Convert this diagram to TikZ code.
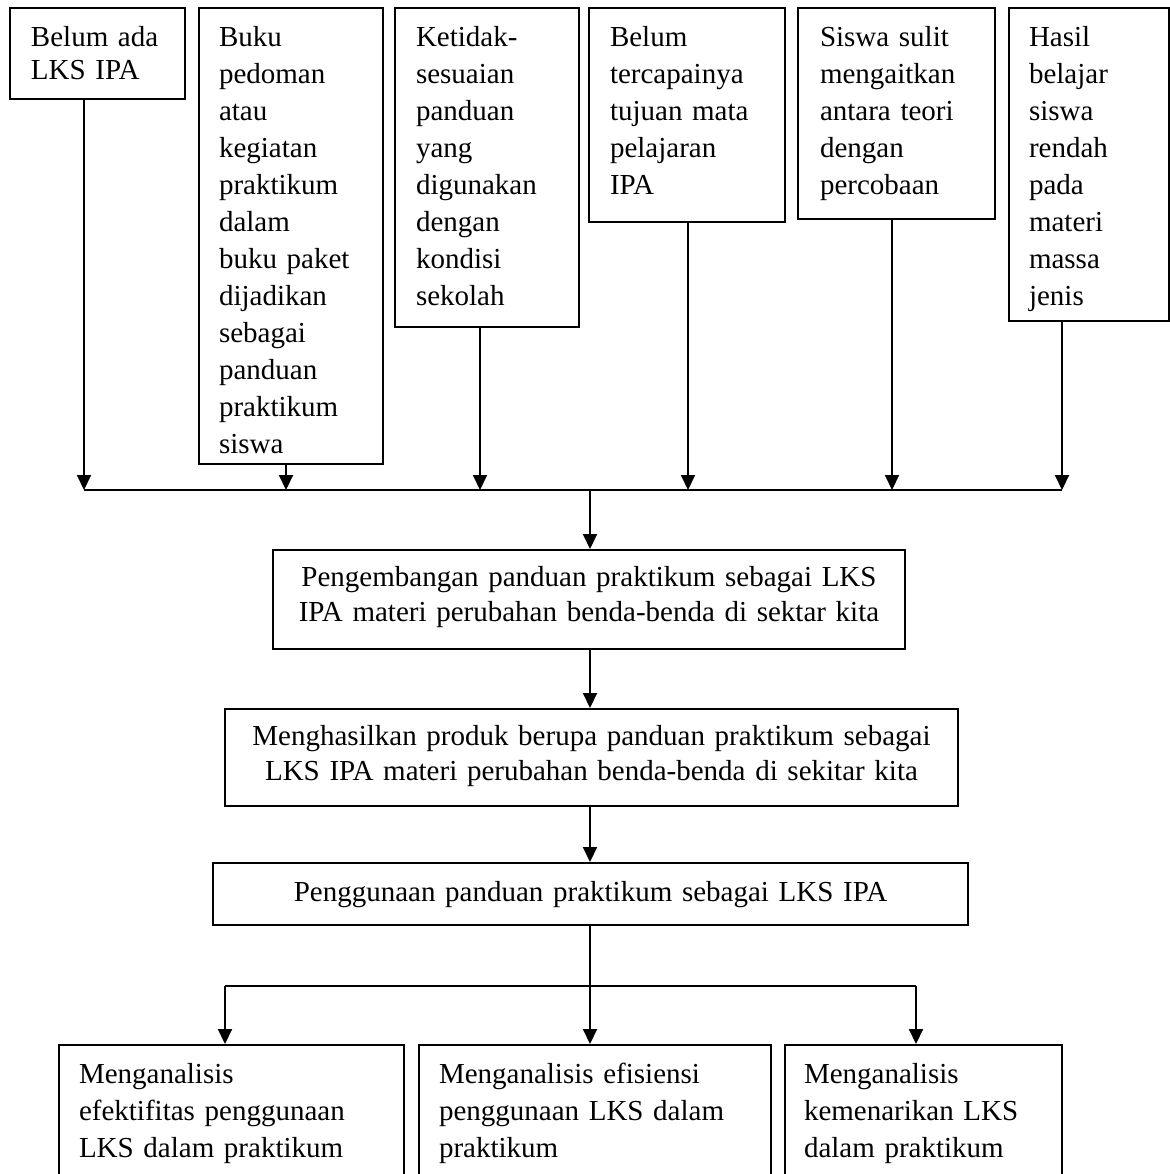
\documentclass[tikz,border=0pt]{standalone}
\usepackage{fontspec}
\setmainfont{Liberation Serif}
\usetikzlibrary{arrows.meta,positioning}
\newcommand{\boxfont}{\fontsize{14.5pt}{18.5pt}\selectfont}
\newcommand{\midfont}{\fontsize{14.5pt}{17.5pt}\selectfont}

\begin{document}
\begin{tikzpicture}
      [x = 0.5pt, y = -0.5pt,
      line width = 1pt,
      arr/.style = {-{Triangle[length = 7.5pt, width = 7pt]}},
      box/.style = {
         draw,
         anchor = north west,
         inner xsep = 10pt,
         inner ysep = 0pt,
         align = left,
         font = \boxfont
      },
      midbox/.style = {
         box,
         align = center,
         font = \midfont
      }]
      \useasboundingbox (0, 0) rectangle (1169, 1174);

      % masalah
      \node[box, font = \fontsize{14.5pt}{16.5pt}\selectfont, inner xsep = 10.5pt, text width = 66.5pt, text height = 19pt, text depth = 26.5pt]
         (lks) at (9, 7) {Belum ada\\LKS IPA};
      \node[box, text width = 72pt, text height = 19pt, text depth = 209pt]
         (buku) at (198, 7) {Buku\\pedoman\\atau\\kegiatan\\praktikum\\dalam\\buku paket\\dijadikan\\sebagai\\panduan\\praktikum\\siswa};
      \node[box, inner xsep = 10.5pt, text width = 71pt, text height = 19pt, text depth = 140.5pt]
         (sesuai) at (394, 7) {Ketidak-\\sesuaian\\panduan\\yang\\digunakan\\dengan\\kondisi\\sekolah};
      \node[box, inner xsep = 10.5pt, text width = 77pt, text height = 19pt, text depth = 88pt]
         (tujuan) at (588, 7) {Belum\\tercapainya\\tujuan mata\\pelajaran\\IPA};
      \node[box, inner xsep = 11pt, text width = 76.5pt, text height = 19pt, text depth = 86.5pt]
         (teori) at (797, 7) {Siswa sulit\\mengaitkan\\antara teori\\dengan\\percobaan};
      \node[box, text width = 60pt, text height = 19pt, text depth = 137.5pt]
         (hasil) at (1008, 7) {Hasil\\belajar\\siswa\\rendah\\pada\\materi\\massa\\jenis};

      \coordinate (j1) at (84, 490);
      \coordinate (j2) at (286, 490);
      \coordinate (j3) at (480, 490);
      \coordinate (j4) at (688, 490);
      \coordinate (j5) at (892, 490);
      \coordinate (j6) at (1062, 490);
      \coordinate (jc) at (590, 490);

      \draw[arr] (lks.south -| j1) -- (j1);
      \draw[arr] (buku.south -| j2) -- (j2);
      \draw[arr] (sesuai.south -| j3) -- (j3);
      \draw[arr] (tujuan.south -| j4) -- (j4);
      \draw[arr] (teori.south -| j5) -- (j5);
      \draw[arr] (hasil.south -| j6) -- (j6);
      \draw (j1) -- (j6);

      % alur pengembangan
      \node[midbox, text width = 296pt, text height = 18pt, text depth = 31.5pt]
         (kembang) at (272, 549) {Pengembangan panduan praktikum sebagai LKS\\IPA materi perubahan benda-benda di sektar kita};
      \node[midbox, text width = 346.5pt, text height = 18pt, text depth = 30.5pt]
         (produk) at (224, 708) {Menghasilkan produk berupa panduan praktikum sebagai\\LKS IPA materi perubahan benda-benda di sekitar kita};
      \node[midbox, text width = 357.5pt, text height = 19pt, text depth = 12pt]
         (guna) at (212, 862) {Penggunaan panduan praktikum sebagai LKS IPA};

      \draw[arr] (jc) -- (jc |- kembang.north);
      \draw[arr] (kembang.south -| jc) -- (produk.north -| jc);
      \draw[arr] (produk.south -| jc) -- (guna.north -| jc);

      % analisis
      \node[box, text width = 152.5pt, text height = 19pt, text depth = 80pt]
         (efek) at (58, 1044) {Menganalisis\\efektifitas penggunaan\\LKS dalam praktikum};
      \node[box, text width = 156pt, text height = 19pt, text depth = 80pt]
         (efis) at (418, 1044) {Menganalisis efisiensi\\penggunaan LKS dalam\\praktikum};
      \node[box, inner xsep = 9.5pt, text width = 119.5pt, text height = 19pt, text depth = 80pt]
         (menarik) at (784, 1044) {Menganalisis\\kemenarikan LKS\\dalam praktikum};

      \coordinate (k) at (590, 986);
      \coordinate (kl) at (225, 986);
      \coordinate (kr) at (916, 986);

      \draw (guna.south -| k) -- (k);
      \draw (kl) -- (kr);
      \draw[arr] (kl) -- (kl |- efek.north);
      \draw[arr] (k) -- (k |- efis.north);
      \draw[arr] (kr) -- (kr |- menarik.north);
   \end{tikzpicture}
\end{document}
